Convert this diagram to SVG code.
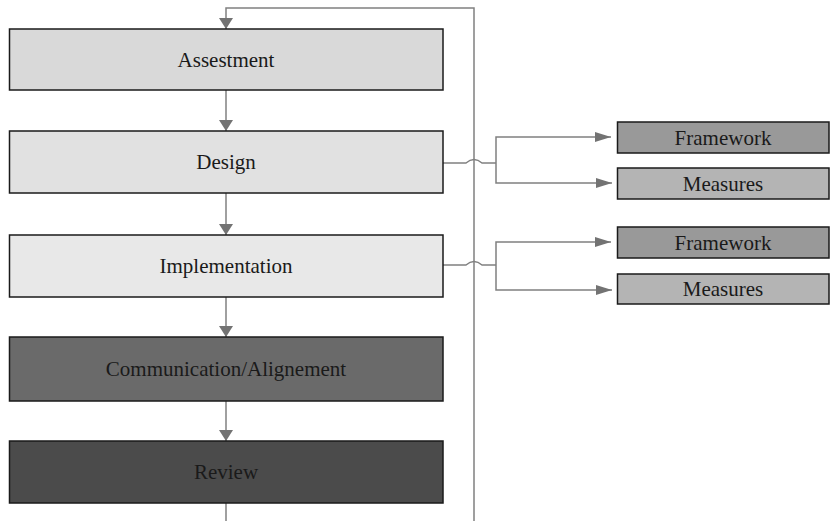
<svg xmlns="http://www.w3.org/2000/svg" width="830" height="521" viewBox="0 0 830 521">
<style>
.box{stroke:#1a1a1a;stroke-width:1.5}
.t{font-family:"Liberation Serif","Times New Roman",serif;font-size:21px;fill:#1a1a1a;text-anchor:middle;dominant-baseline:central}
.c{fill:none;stroke:#808080;stroke-width:1.5}
</style>
<defs>
<marker id="ah" markerWidth="16" markerHeight="10" refX="16" refY="5" orient="auto" markerUnits="userSpaceOnUse">
<path d="M0,0 L16,5 L0,10 Z" fill="#737373"/>
</marker>
<marker id="av" markerWidth="11" markerHeight="14" refX="11" refY="7" orient="auto" markerUnits="userSpaceOnUse">
<path d="M0,0 L11,7 L0,14 Z" fill="#737373"/>
</marker>
</defs>
<rect width="830" height="521" fill="#ffffff"/>
<g id="connectors">
<path class="c" d="M474,521 L474,8 L226,8 L226,29" marker-end="url(#av)"/>
<path class="c" d="M226,90 L226,131" marker-end="url(#av)"/>
<path class="c" d="M226,193 L226,235" marker-end="url(#av)"/>
<path class="c" d="M226,297 L226,337" marker-end="url(#av)"/>
<path class="c" d="M226,401 L226,441" marker-end="url(#av)"/>
<path class="c" d="M226,503 L226,521"/>
<path class="c" d="M443,163 L466,163 Q474,156 482,163 L496,163"/>
<path class="c" d="M496,163 L496,137 L611,137" marker-end="url(#ah)"/>
<path class="c" d="M496,163 L496,183 L612,183" marker-end="url(#ah)"/>
<path class="c" d="M443,265 L466,265 Q474,258 482,265 L496,265"/>
<path class="c" d="M496,265 L496,242 L611,242" marker-end="url(#ah)"/>
<path class="c" d="M496,265 L496,290 L612,290" marker-end="url(#ah)"/>
</g>
<g id="assestment"><rect class="box" x="9.5" y="29" width="433.5" height="61" fill="#d9d9d9"/><text class="t" x="226" y="60">Assestment</text></g>
<g id="design"><rect class="box" x="9.5" y="131" width="433.5" height="62" fill="#e1e1e1"/><text class="t" x="226" y="162">Design</text></g>
<g id="implementation"><rect class="box" x="9.5" y="235" width="433.5" height="62" fill="#e8e8e8"/><text class="t" x="226" y="266">Implementation</text></g>
<g id="communication"><rect class="box" x="9.5" y="337" width="433.5" height="64" fill="#6a6a6a"/><text class="t" x="226" y="369">Communication/Alignement</text></g>
<g id="review"><rect class="box" x="9.5" y="441" width="433.5" height="62" fill="#4b4b4b"/><text class="t" x="226" y="472">Review</text></g>
<g id="framework1"><rect class="box" x="617.5" y="122" width="211.5" height="31" fill="#999999"/><text class="t" x="723" y="137.5">Framework</text></g>
<g id="measures1"><rect class="box" x="617.5" y="168" width="211.5" height="31" fill="#b4b4b4"/><text class="t" x="723" y="183.5">Measures</text></g>
<g id="framework2"><rect class="box" x="617.5" y="227" width="211.5" height="31" fill="#999999"/><text class="t" x="723" y="242.5">Framework</text></g>
<g id="measures2"><rect class="box" x="617.5" y="274" width="211.5" height="30" fill="#b4b4b4"/><text class="t" x="723" y="289">Measures</text></g>
</svg>
